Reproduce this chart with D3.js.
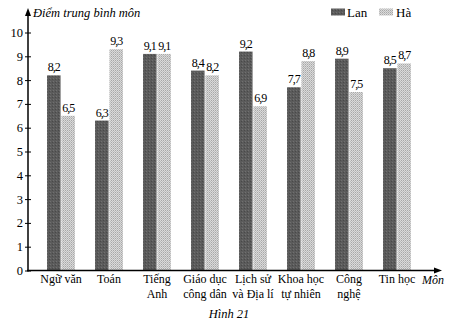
<!DOCTYPE html>
<html><head><meta charset="utf-8">
<script src="https://cdn.jsdelivr.net/npm/d3@7"></script>
<style>
html,body{margin:0;padding:0;background:#fff;}
</style></head>
<body>
<svg id="chart" width="459" height="327"></svg>
<script>
const categories = [["Ngữ văn"],["Toán"],["Tiếng","Anh"],["Giáo dục","công dân"],["Lịch sử","và Địa lí"],["Khoa học","tự nhiên"],["Công","nghệ"],["Tin học"]];
const seriesNames = ["Lan","Hà"];
const lanValues = [8.2, 6.3, 9.1, 8.4, 9.2, 7.7, 8.9, 8.5];
const haValues  = [6.5, 9.3, 9.1, 8.2, 6.9, 8.8, 7.5, 8.7];
const yTicks = [0,1,2,3,4,5,6,7,8,9,10];
const yTitle = "Điểm trung bình môn";
const xTitle = "Môn";
const caption = "Hình 21";

const FONT = "Liberation Serif, Times New Roman, serif";
const svg = d3.select("#chart").attr("font-family", FONT);
const defs = svg.append("defs");
const pLan = defs.append("pattern").attr("id","pLan").attr("patternUnits","userSpaceOnUse").attr("width",3).attr("height",3);
pLan.append("rect").attr("width",3).attr("height",3).attr("fill","#5b5b5b");
pLan.append("rect").attr("x",0).attr("y",0).attr("width",1).attr("height",1).attr("fill","#707070");
pLan.append("rect").attr("x",2).attr("y",1).attr("width",1).attr("height",1).attr("fill","#494949");
const pHa = defs.append("pattern").attr("id","pHa").attr("patternUnits","userSpaceOnUse").attr("width",2).attr("height",2);
pHa.append("rect").attr("width",2).attr("height",2).attr("fill","#dadada");
pHa.append("rect").attr("x",0).attr("y",0).attr("width",1).attr("height",1).attr("fill","#a8a8a8");
pHa.append("rect").attr("x",1).attr("y",1).attr("width",1).attr("height",1).attr("fill","#bdbdbd");
const fills = {"Lan":"url(#pLan)","Hà":"url(#pHa)"};

const axisX = 28, axisY0 = 270.5;
const x = d3.scaleBand().domain(d3.range(categories.length)).range([37,421]).paddingInner(20/48).paddingOuter(10/48);
const xs = d3.scaleBand().domain(seriesNames).range([0, x.bandwidth()]).paddingInner(0.06);
const y = d3.scaleLinear().domain([0,10]).range([axisY0, 32.5]);

const data = categories.map((c,i)=>({i, values:[{s:"Lan",v:lanValues[i]},{s:"Hà",v:haValues[i]}]}));

const g = svg.append("g");
const groups = g.selectAll("g.cat").data(data).join("g").attr("transform",d=>`translate(${x(d.i)},0)`);
groups.selectAll("rect").data(d=>d.values).join("rect")
  .attr("x",d=>xs(d.s)).attr("width",xs.bandwidth())
  .attr("y",d=>y(d.v)).attr("height",d=>y(0)-y(d.v))
  .attr("fill",d=>fills[d.s]);
groups.selectAll("text").data(d=>d.values).join("text")
  .attr("font-family",FONT)
  .attr("x",d=>xs(d.s)+xs.bandwidth()/2).attr("y",d=>y(d.v)-4)
  .attr("text-anchor","middle").attr("font-size",12).attr("letter-spacing","-1")
  .text(d=>d3.format(".1f")(d.v).replace(".",","));

const yAxis = svg.append("g").attr("transform",`translate(${axisX},0)`)
  .call(d3.axisLeft(y).tickValues(yTicks).tickSize(3).tickFormat(d3.format("d")));
yAxis.attr("font-family",FONT);
yAxis.select(".domain").remove();
yAxis.selectAll(".tick line").attr("x1",-3).attr("x2",3).attr("stroke","#000");
yAxis.selectAll(".tick text").attr("font-family",FONT).attr("font-size",12.5).attr("x",-5).attr("fill","#000");

svg.append("line").attr("x1",axisX).attr("x2",axisX).attr("y1",axisY0+1).attr("y2",12).attr("stroke","#000").attr("stroke-width",1.5);
svg.append("path").attr("d",`M${axisX-3},${16} L${axisX},${8} L${axisX+3},${16} Z`).attr("fill","#000");
svg.append("line").attr("x1",axisX-1).attr("x2",438).attr("y1",axisY0).attr("y2",axisY0).attr("stroke","#000").attr("stroke-width",1.5);
svg.append("path").attr("d",`M${434},${axisY0-3} L${442},${axisY0} L${434},${axisY0+3} Z`).attr("fill","#000");

const xl = svg.append("g");
categories.forEach((lines,i)=>{
  lines.forEach((t,j)=>{
    xl.append("text").attr("font-family",FONT).attr("x",x(i)+x.bandwidth()/2).attr("y",283+j*15).attr("text-anchor","middle")
      .attr("font-size",12).text(t);
  });
});

svg.append("text").attr("font-family",FONT).attr("x",33).attr("y",17).attr("font-style","italic").attr("font-size",12.5).text(yTitle);
svg.append("text").attr("font-family",FONT).attr("x",422).attr("y",284).attr("font-style","italic").attr("font-size",12).text(xTitle);
svg.append("text").attr("font-family",FONT).attr("x",229).attr("y",318).attr("text-anchor","middle").attr("font-style","italic").attr("font-size",12.5).text(caption);

const leg = svg.append("g");
const legPos = [{s:"Lan",x:331,tx:347},{s:"Hà",x:379,tx:396}];
legPos.forEach(p=>{
  leg.append("rect").attr("x",p.x).attr("y",8.5).attr("width",14).attr("height",7).attr("fill",fills[p.s]);
  leg.append("text").attr("font-family",FONT).attr("x",p.tx).attr("y",17).attr("font-size",13).text(p.s);
});
</script>
</body></html>
